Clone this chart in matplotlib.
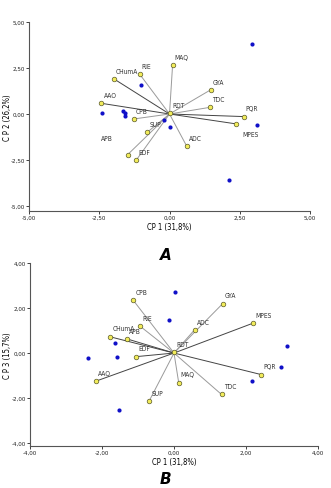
import matplotlib
matplotlib.use("Agg")
import matplotlib.pyplot as plt
from matplotlib.ticker import FuncFormatter

plt.rcParams['font.family'] = ['DejaVu Sans']
plt.rcParams['font.stretch'] = 'condensed'

# variables (loadings) for plot A: CP1 vs CP2
vars_a = ['MAQ', 'RIE', 'CHumA', 'GYA', 'AAO', 'TDC', 'PQR', 'CPB', 'MPES',
          'SUP', 'ADC', 'APB', 'EDF', 'RDT']
cp1_a = [0.11, -1.06, -1.98, 1.46, -2.42, 1.43, 2.64, -1.27, 2.38,
         -0.79, 0.61, -1.49, -1.19, 0.03]
cp2_a = [2.66, 2.16, 1.91, 1.31, 0.58, 0.36, -0.14, -0.27, -0.54,
         -0.99, -1.74, -2.21, -2.52, 0.03]
dark_a = ['CHumA', 'AAO', 'PQR', 'MPES']

# observations (scores) for plot A
obs_cp1_a = [2.93, -1.00, -2.39, -1.64, -1.57, -1.60, -0.18, 0.01, 3.11, 2.12]
obs_cp2_a = [3.78, 1.56, 0.05, 0.16, 0.06, -0.12, -0.32, -0.68, -0.59, -3.56]

# variables for plot B: CP1 vs CP3
vars_b = ['CPB', 'GYA', 'MPES', 'RIE', 'ADC', 'CHumA', 'APB', 'EDF', 'PQR',
          'AAO', 'MAQ', 'TDC', 'SUP', 'RDT']
cp1_b = [-1.13, 1.35, 2.20, -0.94, 0.57, -1.77, -1.31, -1.05, 2.43,
         -2.17, 0.13, 1.32, -0.69, 0.0]
cp3_b = [2.34, 2.19, 1.33, 1.19, 1.03, 0.72, 0.63, -0.16, -0.96,
         -1.25, -1.31, -1.84, -2.13, 0.03]
dark_b = ['CHumA', 'APB', 'EDF', 'AAO', 'MPES', 'PQR']

obs_cp1_b = [0.03, -0.15, 3.15, -1.63, -2.38, -1.57, 2.97, 2.16, -1.52]
obs_cp3_b = [2.69, 1.45, 0.31, 0.43, -0.24, -0.16, -0.61, -1.25, -2.55]

W, H = 331, 489
fig = plt.figure(figsize=(W / 100, H / 100), dpi=100)


def comma(v, pos):
    return f'{v:.2f}'.replace('.', ',')


def biplot(ax, names, xs, ys, dark, ox, oy, offsets):
    for n, x, y in zip(names, xs, ys):
        c = '#444444' if n in dark else '#9a9a9a'
        ax.plot([0, x], [0, y], color=c, lw=0.7, zorder=1)
    ax.plot(xs, ys, 'o', ms=3.3, mfc='#f2ec5a', mec='#5a5a2a', mew=0.5, zorder=3)
    ax.plot(ox, oy, 'o', ms=3.0, color='#1010c8', mec='none', zorder=4)
    for n, x, y in zip(names, xs, ys):
        dx, dy = offsets.get(n, (1.5, 6))
        ax.annotate(n, (x, y), xytext=(dx, dy), textcoords='offset points',
                    ha='left', va='center', fontsize=4.8, color='#333333')
    for s in ['top', 'right']:
        ax.spines[s].set_visible(False)
    for s in ['left', 'bottom']:
        ax.spines[s].set_linewidth(0.8)
        ax.spines[s].set_color('#555555')
    ax.tick_params(length=2, width=0.6, labelsize=4.5, pad=1, colors='#222222')
    ax.xaxis.set_major_formatter(FuncFormatter(comma))
    ax.yaxis.set_major_formatter(FuncFormatter(comma))
    ax.set_facecolor('none')


# plot A
ax1 = fig.add_axes([29 / W, 1 - 211.6 / H, 281 / W, 188.6 / H])
biplot(ax1, vars_a, cp1_a, cp2_a, dark_a, obs_cp1_a, obs_cp2_a,
       {'MPES': (4.5, -7.5), 'APB': (-19, 12)})
ax1.set_xlim(-5, 5)
ax1.set_ylim(-5.25, 5)
ax1.set_xticks([-5, -2.5, 0, 2.5, 5])
ax1.set_yticks([-5, -2.5, 0, 2.5, 5])
ax1.set_xlabel('CP 1 (31,8%)', fontsize=5.5, labelpad=1.5)
ax1.set_ylabel('C P 2 (26,2%)', fontsize=5.5)
ax1.yaxis.set_label_coords(-0.06, 0.5)
fig.text(0.5, 1 - 255 / H, 'A', ha='center', va='center', fontsize=11,
         fontweight='bold', fontstyle='italic', fontstretch='normal')

# plot B
ax2 = fig.add_axes([30 / W, 1 - 447 / H, 288 / W, 183 / H])
biplot(ax2, vars_b, cp1_b, cp3_b, dark_b, obs_cp1_b, obs_cp3_b, {})
ax2.set_xlim(-4, 4)
ax2.set_ylim(-4.13, 4)
ax2.set_xticks([-4, -2, 0, 2, 4])
ax2.set_yticks([-4, -2, 0, 2, 4])
ax2.set_xlabel('CP 1 (31,8%)', fontsize=5.5, labelpad=1.5)
ax2.set_ylabel('C P 3 (15,7%)', fontsize=5.5)
ax2.yaxis.set_label_coords(-0.062, 0.5)
fig.text(0.5, 1 - 480 / H, 'B', ha='center', va='center', fontsize=11,
         fontweight='bold', fontstyle='italic', fontstretch='normal')

fig.savefig('out.png', dpi=100, facecolor='white')
